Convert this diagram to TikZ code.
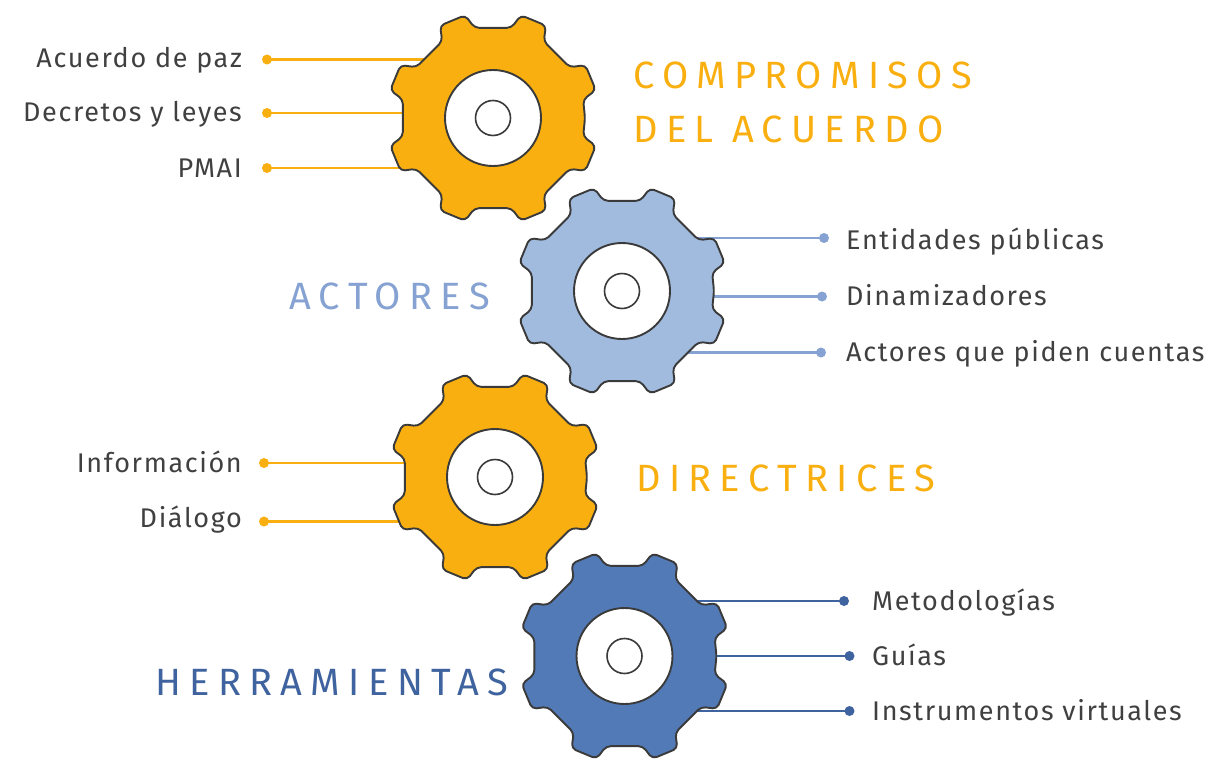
\documentclass[tikz,border=0pt]{standalone}
\usepackage{fontspec}
\setmainfont{Fira Sans}
\newfontfamily\headfont[LetterSpace=22,BoldFont={Fira Sans Medium}]{Fira Sans}
\newfontfamily\labelfont[LetterSpace=6]{Fira Sans}
\definecolor{gearorange}{HTML}{F9AF10}
\definecolor{gearlight}{HTML}{A1BBDF}
\definecolor{gearblue}{HTML}{527AB6}
\definecolor{linelight}{HTML}{86A2D2}
\definecolor{lineblue}{HTML}{3F639F}
\definecolor{inkdark}{HTML}{3A3A3A}
\definecolor{labelgrey}{HTML}{404040}
\tikzset{
  gearbody/.style={draw=inkdark,line width=1.9pt,rounded corners=4.5pt,line join=round},
  hubdisc/.style={circle,draw=inkdark,line width=1.9pt,fill=white,minimum size=96pt,inner sep=0pt},
  hubhole/.style={circle,draw=inkdark,line width=1.6pt,fill=white,minimum size=35pt,inner sep=0pt},
  itemlabel/.style={font=\labelfont\fontsize{27}{27}\selectfont,text=labelgrey,inner sep=0pt},
  headlabel/.style={font=\headfont\fontsize{38}{38}\selectfont,inner sep=0pt,anchor=base west},
  enddot/.style={circle,fill=#1,minimum size=10pt,inner sep=0pt},
  leader/.style={draw=#1,line width=2.2pt}
}
\newcommand{\drawgear}[2]{%
  \fill[gearbody,fill=#2,shift={(#1)}]
    (0:92) \foreach \a in {22.5,67.5,...,337.5}{
      -- (\a-11:92) -- (\a-7.3:106.5) -- (\a+7.3:106.5) -- (\a+11:92)
    } -- cycle;
  \draw[gearbody,draw=none] (#1);
}
\begin{document}
\begin{tikzpicture}[x=1pt,y=-1pt]
\useasboundingbox (0,0) rectangle (1220,758);
\clip (0,0) rectangle (1220,758);
\coordinate (g1) at (493,118);
\coordinate (g2) at (622,291);
\coordinate (g3) at (495,477);
\coordinate (g4) at (624.5,656);
% end dots
\node[enddot=gearorange] (a1) at (267,59.5) {};
\node[enddot=gearorange] (a2) at (267,113) {};
\node[enddot=gearorange] (a3) at (267,168) {};
\node[enddot=linelight] (b1) at (824,238) {};
\node[enddot=linelight] (b2) at (822,296.5) {};
\node[enddot=linelight] (b3) at (821,352.5) {};
\node[enddot=gearorange] (c1) at (264,463) {};
\node[enddot=gearorange] (c2) at (264,521.5) {};
\node[enddot=lineblue] (d1) at (844,601) {};
\node[enddot=lineblue] (d2) at (849.5,656) {};
\node[enddot=lineblue] (d3) at (849.5,711) {};
% connectors, passing behind the gears
\foreach \n in {a1,a2,a3}{\draw[leader=gearorange] (\n.center) -- (\n.center -| g1);}
\foreach \n in {b1,b2,b3}{\draw[leader=linelight] (\n.center) -- (\n.center -| g2);}
\foreach \n in {c1,c2}{\draw[leader=gearorange] (\n.center) -- (\n.center -| g3);}
\foreach \n in {d1,d2,d3}{\draw[leader=lineblue] (\n.center) -- (\n.center -| g4);}
% gears
\drawgear{g1}{gearorange}
\drawgear{g2}{gearlight}
\drawgear{g3}{gearorange}
\drawgear{g4}{gearblue}
\foreach \g in {1,2,3,4}{
  \node[hubdisc] (disc\g) at (g\g) {};
  \node[hubhole] (hole\g) at (g\g) {};
}
% item labels
\node[itemlabel,anchor=base east] (ta1) at (242,67) {Acuerdo de paz};
\node[itemlabel,anchor=base east] (ta2) at (242,121) {Decretos y leyes};
\node[itemlabel,anchor=base east] (ta3) at (242,177) {PMAI};
\node[itemlabel,anchor=base west] (tb1) at (846,249) {Entidades públicas};
\node[itemlabel,anchor=base west] (tb2) at (846,305) {Dinamizadores};
\node[itemlabel,anchor=base west] (tb3) at (846,361) {Actores que piden cuentas};
\node[itemlabel,anchor=base east] (tc1) at (242,472) {Información};
\node[itemlabel,anchor=base east] (tc2) at (242,527) {Diálogo};
\node[itemlabel,anchor=base west] (td1) at (872,610) {Metodologías};
\node[itemlabel,anchor=base west] (td2) at (872,665) {Guías};
\node[itemlabel,anchor=base west] (td3) at (872,720) {Instrumentos virtuales};
% headings
\node[headlabel,text=gearorange] (h1) at (633,88) {COMPROMISOS};
\node[headlabel,text=gearorange] (h2) at (633,142) {DEL ACUERDO};
\node[headlabel,text=linelight] (h3) at (289,309) {ACTORES};
\node[headlabel,text=gearorange] (h4) at (636,491) {DIRECTRICES};
\node[headlabel,text=lineblue] (h5) at (155,695) {HERRAMIENTAS};
\end{tikzpicture}
\end{document}
